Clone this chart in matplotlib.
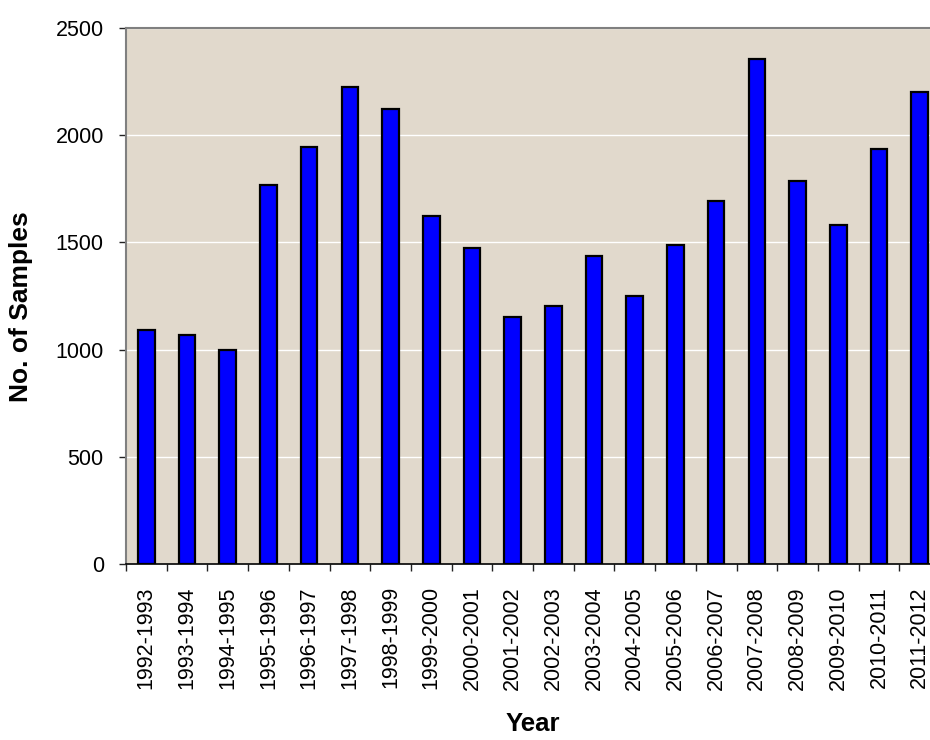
import numpy as np
import matplotlib.pyplot as plt
from matplotlib.ticker import FixedLocator
import matplotlib
matplotlib.rcParams['font.family'] = ['Liberation Sans', 'DejaVu Sans']

# 年度ごとのサンプル数
years = ['1992-1993', '1993-1994', '1994-1995', '1995-1996', '1996-1997',
         '1997-1998', '1998-1999', '1999-2000', '2000-2001', '2001-2002',
         '2002-2003', '2003-2004', '2004-2005', '2005-2006', '2006-2007',
         '2007-2008', '2008-2009', '2009-2010', '2010-2011', '2011-2012']
samples = [1090, 1070, 1000, 1770, 1945,
           2225, 2120, 1625, 1475, 1150,
           1205, 1435, 1250, 1490, 1695,
           2355, 1785, 1580, 1935, 2200]
y_ticks = [0, 500, 1000, 1500, 2000, 2500]

fig = plt.figure(figsize=(9.3, 7.4), dpi=100)
# 右端は図の外まで伸ばす
ax = fig.add_axes([126 / 930, 176 / 740, 814 / 930, 536 / 740])
ax.set_facecolor('#e1d9cc')

x = np.arange(len(years)) + 0.5
ax.bar(x, samples, width=0.41, color='#0000ff', edgecolor='black',
       linewidth=1.6, zorder=3)

ax.set_xlim(0, len(years))
ax.set_ylim(0, 2500)
ax.set_yticks(y_ticks)
ax.yaxis.grid(True, color='white', linewidth=1.0, zorder=1)
ax.set_axisbelow(True)

# 区切り目盛りとカテゴリラベル
ax.xaxis.set_major_locator(FixedLocator(np.arange(len(years) + 1)))
ax.xaxis.set_minor_locator(FixedLocator(x))
ax.set_xticklabels([], minor=False)
ax.set_xticklabels(years, minor=True, rotation=90, fontsize=15.5)
ax.tick_params(axis='x', which='major', length=5, width=1, color='#222222')
ax.tick_params(axis='x', which='minor', length=0, pad=16)
ax.tick_params(axis='y', length=5, width=1, color='#222222', labelsize=15.5,
               pad=11)

for side in ['left', 'top', 'right']:
    ax.spines[side].set_color('#808080')
    ax.spines[side].set_linewidth(1.5)
ax.spines['bottom'].set_color('black')
ax.spines['bottom'].set_linewidth(1.2)

ax.set_ylabel('No. of Samples', fontsize=19, fontweight='bold')
ax.yaxis.set_label_coords(-0.114, 0.48)
ax.set_xlabel('Year', fontsize=18.5, fontweight='bold')
ax.xaxis.set_label_coords(0.5, -0.276)

plt.savefig('out.png', dpi=100)
